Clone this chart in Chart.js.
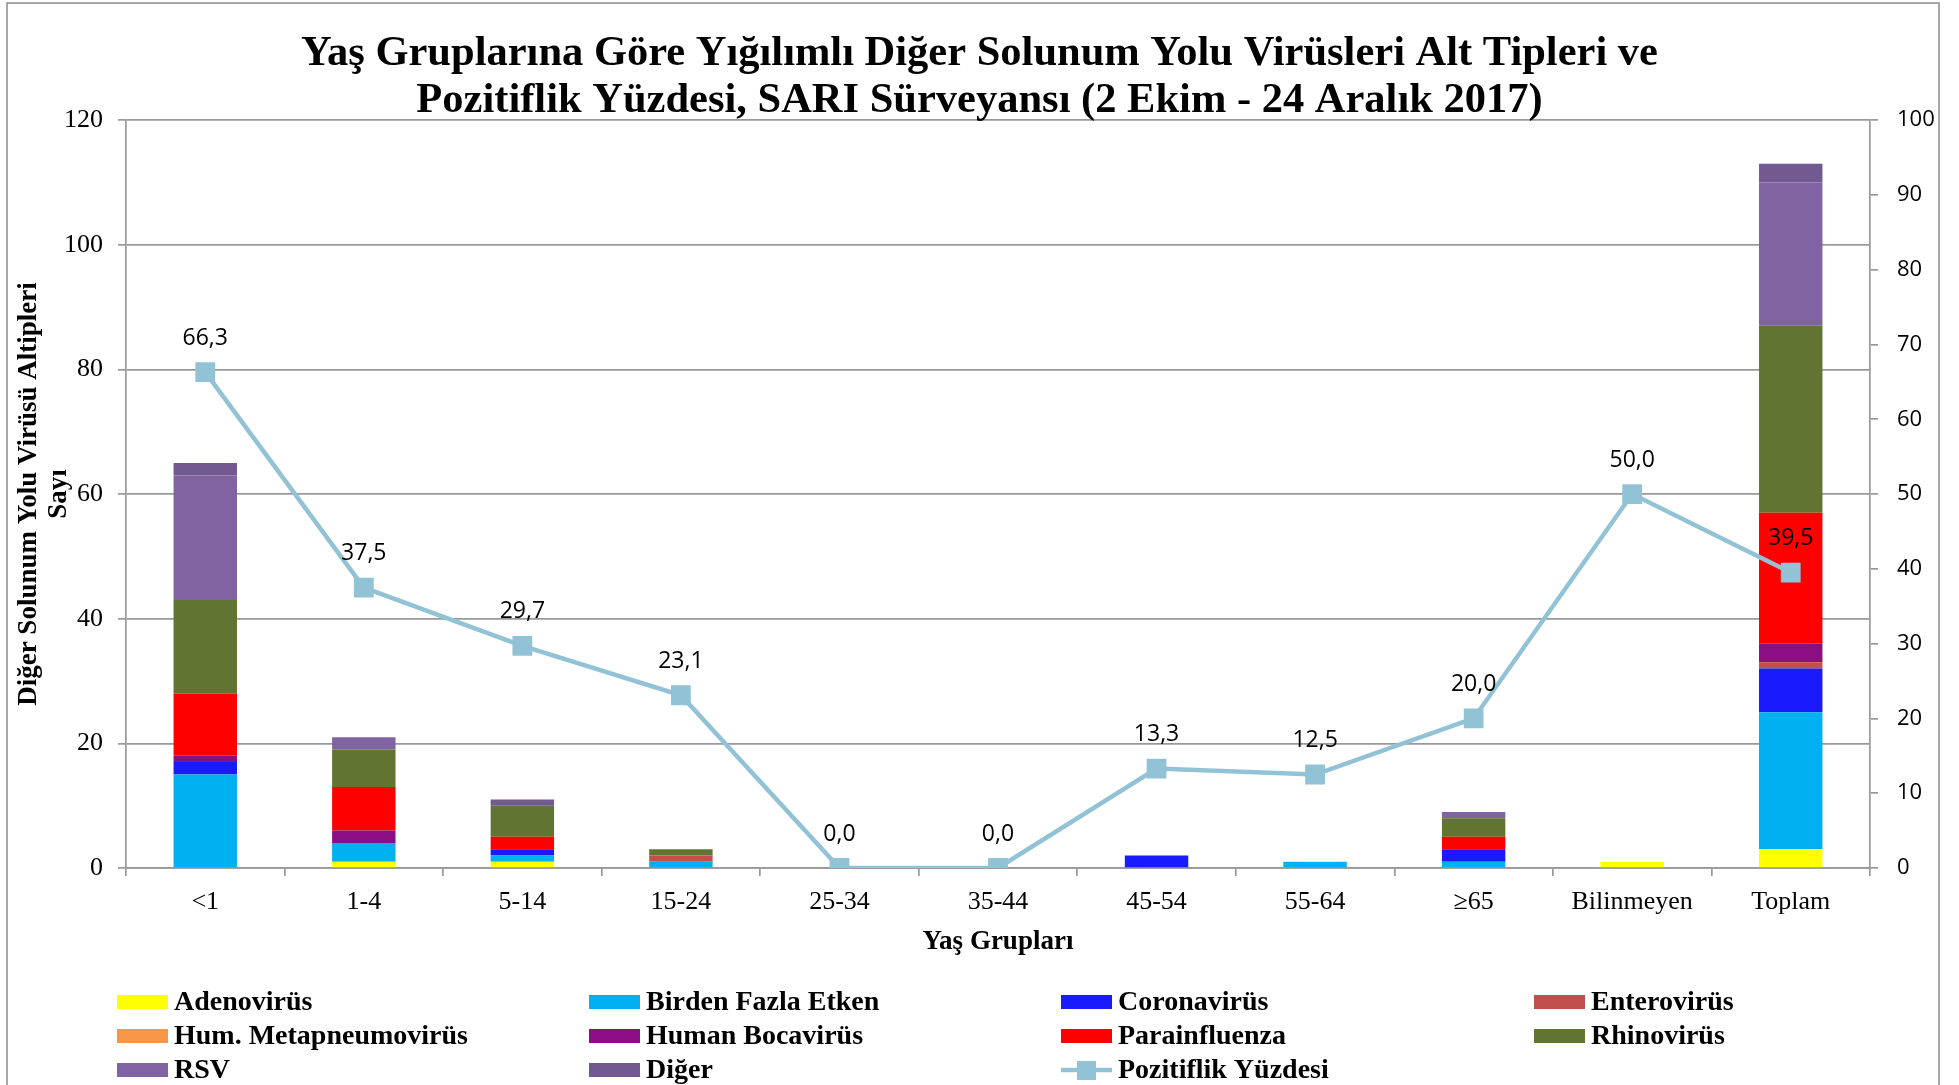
<!DOCTYPE html>
<html>
<head>
<meta charset="utf-8">
<script src="https://cdn.jsdelivr.net/npm/chart.js@4.4.1/dist/chart.umd.min.js"></script>
<style>
  html, body { margin: 0; padding: 0; background: #fff; }
  canvas { display: block; }
</style>
</head>
<body>
<canvas id="chart" width="1959" height="1085"></canvas>
<script>
// age groups on the x axis
const categories = ['<1', '1-4', '5-14', '15-24', '25-34', '35-44', '45-54', '55-64', '≥65', 'Bilinmeyen', 'Toplam'];

// counts per virus subtype (stacked, bottom to top)
const adeno = [0, 1, 1, 0, 0, 0, 0, 0, 0, 1, 3];
const birden = [15, 3, 1, 1, 0, 0, 0, 1, 1, 0, 22];
const corona = [2, 0, 1, 0, 0, 0, 2, 0, 2, 0, 7];
const entero = [0, 0, 0, 1, 0, 0, 0, 0, 0, 0, 1];
const hmpv = [0, 0, 0, 0, 0, 0, 0, 0, 0, 0, 0];
const boca = [1, 2, 0, 0, 0, 0, 0, 0, 0, 0, 3];
const para = [10, 7, 2, 0, 0, 0, 0, 0, 2, 0, 21];
const rhino = [15, 6, 5, 1, 0, 0, 0, 0, 3, 0, 30];
const rsv = [20, 2, 0, 0, 0, 0, 0, 0, 1, 0, 23];
const diger = [2, 0, 1, 0, 0, 0, 0, 0, 0, 0, 3];

// positivity percentage (right axis)
const pozitiflik = [66.3, 37.5, 29.7, 23.1, 0.0, 0.0, 13.3, 12.5, 20.0, 50.0, 39.5];

const leftTicks = [0, 20, 40, 60, 80, 100, 120];
const rightTicks = [0, 10, 20, 30, 40, 50, 60, 70, 80, 90, 100];

const SERIF = '"Liberation Serif", "Times New Roman", serif';
const SANS = '"Open Sans", "DejaVu Sans", sans-serif';
const GRID = '#999999';

function bar(label, data, color) {
    return {
        type: 'bar',
        label: label,
        data: data,
        backgroundColor: color,
        borderWidth: 0,
        barPercentage: 0.4,
        categoryPercentage: 1.0,
        yAxisID: 'y',
        order: 1
    };
}

// draws the 4 column legend under the axis
const gridLegend = {
    id: 'gridLegend',
    afterDraw(chart) {
        const ctx = chart.ctx;
        const cols = [117, 589, 1061, 1534];
        const rows = [1002, 1036, 1070];
        ctx.save();
        ctx.font = 'bold 28px ' + SERIF;
        ctx.textBaseline = 'middle';
        ctx.textAlign = 'left';
        chart.data.datasets.forEach(function (ds, i) {
            const x = cols[i % 4];
            const y = rows[Math.floor(i / 4)];
            if (ds.type === 'line') {
                ctx.strokeStyle = ds.borderColor;
                ctx.lineWidth = 4.5;
                ctx.beginPath();
                ctx.moveTo(x, y);
                ctx.lineTo(x + 51, y);
                ctx.stroke();
                ctx.fillStyle = ds.borderColor;
                ctx.fillRect(x + 16, y - 9, 19, 19);
            } else {
                ctx.fillStyle = ds.backgroundColor;
                ctx.fillRect(x, y - 7, 51, 14);
            }
            ctx.fillStyle = '#000';
            ctx.fillText(ds.label, x + 57, y + 1);
        });
        ctx.restore();
    }
};

// value labels above the line points
const pointLabels = {
    id: 'pointLabels',
    afterDatasetsDraw(chart) {
        const ctx = chart.ctx;
        chart.data.datasets.forEach(function (ds, i) {
            if (ds.type !== 'line') return;
            const meta = chart.getDatasetMeta(i);
            ctx.save();
            ctx.font = '23px ' + SANS;
            ctx.fillStyle = '#000';
            ctx.textAlign = 'center';
            ctx.textBaseline = 'middle';
            meta.data.forEach(function (pt, j) {
                ctx.fillText(ds.data[j].toFixed(1).replace('.', ','), pt.x, pt.y - 34);
            });
            ctx.restore();
        });
    }
};

// outer frame
const frame = {
    id: 'frame',
    beforeDraw(chart) {
        const ctx = chart.ctx;
        ctx.save();
        ctx.fillStyle = '#fff';
        ctx.fillRect(0, 0, chart.width, chart.height);
        ctx.restore();
    },
    afterDraw(chart) {
        const ctx = chart.ctx;
        ctx.save();
        ctx.strokeStyle = '#8c8c8c';
        ctx.lineWidth = 1.5;
        ctx.strokeRect(7, 3, 1932, 1100);
        ctx.restore();
    }
};

const ctx = document.getElementById('chart').getContext('2d');
new Chart(ctx, {
    data: {
        labels: categories,
        datasets: [
            bar('Adenovirüs', adeno, '#FFFF00'),
            bar('Birden Fazla Etken', birden, '#00B0F0'),
            bar('Coronavirüs', corona, '#1A1AFF'),
            bar('Enterovirüs', entero, '#C0504D'),
            bar('Hum. Metapneumovirüs', hmpv, '#F79646'),
            bar('Human Bocavirüs', boca, '#8B0E85'),
            bar('Parainfluenza', para, '#FF0000'),
            bar('Rhinovirüs', rhino, '#617432'),
            bar('RSV', rsv, '#8064A2'),
            bar('Diğer', diger, '#725990'),
            {
                type: 'line',
                label: 'Pozitiflik Yüzdesi',
                data: pozitiflik,
                yAxisID: 'y1',
                borderColor: '#92C2D5',
                backgroundColor: '#92C2D5',
                borderWidth: 4.5,
                pointStyle: 'rect',
                pointRadius: 14,
                pointBorderWidth: 0,
                tension: 0,
                order: 0
            }
        ]
    },
    options: {
        responsive: false,
        animation: false,
        layout: {
            padding: { left: 0, right: 0, top: 0, bottom: 127.2 }
        },
        plugins: {
            legend: { display: false },
            tooltip: { enabled: false },
            title: {
                display: true,
                text: ['Yaş Gruplarına Göre Yığılımlı Diğer Solunum Yolu Virüsleri Alt Tipleri ve',
                       'Pozitiflik Yüzdesi, SARI Sürveyansı (2 Ekim - 24 Aralık 2017)'],
                color: '#000',
                font: { family: SERIF, size: 42.5, weight: 'bold', lineHeight: 1.11 },
                padding: { top: 30, bottom: -4.2 }
            }
        },
        scales: {
            x: {
                stacked: true,
                offset: true,
                grid: {
                    offset: true,
                    drawOnChartArea: false,
                    color: GRID,
                    lineWidth: 1.7,
                    tickLength: 8
                },
                border: { color: GRID, width: 1.7 },
                ticks: {
                    color: '#000',
                    font: { family: SERIF, size: 26 },
                    padding: 11,
                    maxRotation: 0,
                    autoSkip: false
                },
                title: {
                    display: true,
                    text: 'Yaş Grupları',
                    color: '#000',
                    font: { family: SERIF, size: 27, weight: 'bold', lineHeight: 1.2 },
                    padding: { top: 0, bottom: 0 }
                },
                afterFit: function (s) { s.height = 89.8; }
            },
            y: {
                type: 'linear',
                position: 'left',
                stacked: true,
                min: 0,
                max: 120,
                afterBuildTicks: function (s) { s.ticks = leftTicks.map(function (v) { return { value: v }; }); },
                grid: { color: GRID, lineWidth: 1.7, tickLength: 8 },
                border: { color: GRID, width: 1.7 },
                ticks: {
                    color: '#000',
                    font: { family: SERIF, size: 26 },
                    padding: 15
                },
                title: {
                    display: true,
                    text: ['Diğer Solunum Yolu Virüsü Altipleri', 'Sayı'],
                    color: '#000',
                    font: { family: SERIF, size: 27, weight: 'bold', lineHeight: 1.11 },
                    padding: { top: 14, bottom: 0 }
                },
                afterFit: function (s) { s.width = 126; }
            },
            y1: {
                type: 'linear',
                position: 'right',
                min: 0,
                max: 100,
                afterBuildTicks: function (s) { s.ticks = rightTicks.map(function (v) { return { value: v }; }); },
                grid: { drawOnChartArea: false, color: GRID, lineWidth: 1.7, tickLength: 8 },
                border: { color: GRID, width: 1.7 },
                ticks: {
                    color: '#000',
                    font: { family: SANS, size: 22 },
                    padding: 19
                },
                afterFit: function (s) { s.width = 89; }
            }
        }
    },
    plugins: [frame, pointLabels, gridLegend]
});
</script>
</body>
</html>
